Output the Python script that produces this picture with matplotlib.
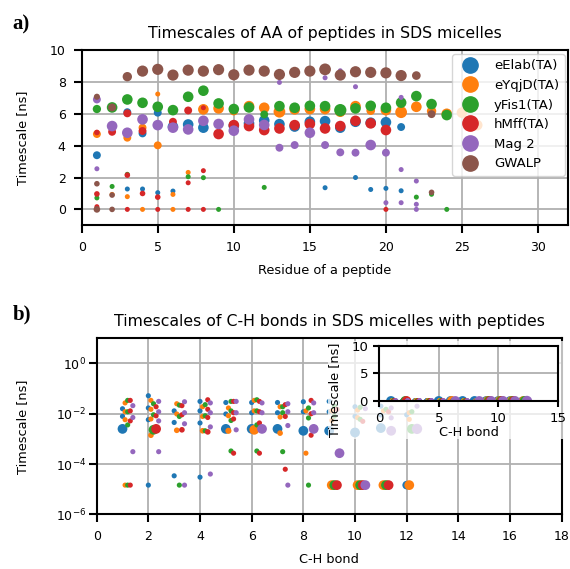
import matplotlib
matplotlib.use('Agg')
import matplotlib.pyplot as plt
from matplotlib.lines import Line2D
from matplotlib.patches import Rectangle
from matplotlib.ticker import NullLocator

plt.rcParams['axes.linewidth'] = 1.5
plt.rcParams['xtick.major.width'] = 1.5
plt.rcParams['ytick.major.width'] = 1.5
plt.rcParams['xtick.major.size'] = 5.5
plt.rcParams['ytick.major.size'] = 5.5
plt.rcParams['xtick.major.pad'] = 6
plt.rcParams['ytick.major.pad'] = 6
plt.rcParams['grid.linewidth'] = 1.3
plt.rcParams['xtick.labelsize'] = 9
plt.rcParams['ytick.labelsize'] = 9

peptides = ['eElab(TA)', 'eYqjD(TA)', 'yFis1(TA)', 'hMff(TA)', 'Mag 2', 'GWALP']
colors = ['tab:blue', 'tab:orange', 'tab:green', 'tab:red', 'tab:purple', 'tab:brown']

# ---- a) residue timescales [ns] with relative weights
eElab_res = [1, 3, 4, 5, 6, 7, 8, 10, 11, 12, 13, 14, 15, 16, 17, 18, 19, 20, 21,
             3, 4, 5, 6, 16, 18, 19, 20, 21]
eElab_tau = [3.4, 6.1, 4.77, 6.07, 5.19, 5.33, 5.13, 5.25, 5.4, 5.58, 5.35, 5.2, 5.5, 5.54, 5.13, 5.5, 5.44, 5.47, 5.17,
             1.28, 1.28, 1.05, 1.15, 1.36, 2.0, 1.25, 1.32, 1.17]
eElab_w = [0.5, 0.5, 0.5, 0.5, 0.9, 0.9, 0.9, 0.9, 0.9, 0.9, 0.9, 0.9, 0.9, 0.9, 0.9, 0.9, 0.9, 0.9, 0.5,
           0.2, 0.2, 0.2, 0.2, 0.2, 0.2, 0.2, 0.2, 0.2]

eYqjD_res = [1, 2, 3, 3, 4, 4, 5, 5, 6, 6, 7, 8, 9, 10, 11, 12, 13, 14, 15, 16, 17, 18, 19, 20, 21, 22, 23, 24, 25, 26]
eYqjD_tau = [4.73, 0.94, 4.5, 0.8, 5.13, 0.0, 7.24, 4.02, 0.94, 0.0, 2.32, 6.28, 6.34, 6.17, 6.48, 6.38, 6.13,
             6.28, 6.3, 6.3, 6.13, 6.48, 6.2, 6.23, 6.1, 6.44, 6.17, 6.0, 6.07, 5.29]
eYqjD_w = [0.5, 0.2, 0.5, 0.2, 0.5, 0.2, 0.2, 0.5, 0.2, 0.2, 0.2, 0.9, 0.9, 0.6, 0.9, 0.9, 1.1, 0.9, 0.9, 0.9,
           0.9, 0.9, 0.6, 0.9, 1.1, 0.9, 0.7, 0.9, 0.9, 0.9]

yFis1_res = [1, 1, 2, 2, 3, 3, 4, 5, 6, 7, 7, 8, 8, 9, 9, 10, 11, 12, 12, 13, 14, 15, 16, 17, 18, 19, 20, 21,
             22, 22, 23, 23, 24, 24]
yFis1_tau = [6.3, 0.72, 6.4, 1.44, 6.9, 2.2, 6.69, 6.44, 6.23, 7.07, 2.05, 7.45, 1.99, 6.65, 0.0, 6.3, 6.4, 5.96,
             1.38, 6.48, 6.38, 6.5, 6.48, 6.23, 6.34, 6.5, 6.38, 6.7, 7.11, 0.77, 6.61, 0.95, 5.92, 0.0]
yFis1_w = [0.55, 0.2, 0.9, 0.2, 0.9, 0.2, 0.9, 0.9, 0.9, 0.9, 0.2, 0.9, 0.2, 0.9, 0.2, 0.9, 0.9, 0.5, 0.2, 0.9,
           0.9, 0.9, 0.9, 1.2, 0.9, 0.9, 0.9, 0.9, 0.9, 0.2, 0.9, 0.2, 0.9, 0.2]

hMff_res = [1, 1, 1, 2, 3, 3, 3, 4, 4, 5, 5, 6, 7, 7, 7, 8, 8, 8, 9, 10, 11, 12, 13, 14, 15, 16, 17, 18, 19, 20, 20]
hMff_tau = [4.83, 0.97, 0.17, 4.87, 6.03, 2.15, 0.0, 4.92, 1.0, 0.77, 0.0, 5.5, 6.21, 1.67, 0.0, 6.38, 2.43, 0.0,
            4.73, 5.29, 5.23, 4.98, 5.08, 5.29, 5.36, 5.08, 5.23, 5.56, 5.4, 4.98, 0.0]
hMff_w = [0.25, 0.25, 0.2, 0.5, 0.5, 0.25, 0.2, 0.5, 0.25, 0.25, 0.2, 0.5, 0.5, 0.2, 0.2, 0.2, 0.2, 0.2, 0.9,
          0.9, 0.9, 0.9, 0.9, 0.9, 0.9, 0.9, 0.9, 0.9, 0.9, 0.9, 0.2]

Mag2_res = [1, 1, 1, 2, 3, 4, 5, 6, 7, 8, 9, 10, 11, 12, 13, 13, 14, 14, 15, 16, 16, 17, 17, 18, 18, 19, 20, 20,
            21, 21, 21, 22, 22, 22]
Mag2_tau = [6.9, 2.55, 0.0, 5.23, 4.81, 5.65, 5.29, 5.13, 5.02, 5.56, 5.36, 4.94, 5.65, 5.3, 7.97, 3.87, 8.7,
            4.04, 4.81, 8.26, 4.04, 8.7, 3.58, 7.7, 3.56, 4.04, 3.56, 0.42, 7.03, 2.5, 0.42, 1.78, 0.32, 0.0]
Mag2_w = [0.5, 0.2, 0.2, 0.9, 0.9, 0.9, 0.9, 0.9, 0.9, 0.9, 0.9, 0.9, 0.9, 0.9, 0.2, 0.5, 0.2, 0.5, 0.9, 0.2,
          0.5, 0.2, 0.5, 0.2, 0.5, 0.9, 0.5, 0.2, 0.2, 0.2, 0.2, 0.2, 0.2, 0.2]

GWALP_res = [1, 1, 1, 2, 2, 2, 3, 4, 5, 6, 7, 8, 9, 10, 11, 12, 13, 14, 15, 16, 17, 18, 19, 20, 21, 22, 23, 23]
GWALP_tau = [7.07, 1.61, 0.0, 6.4, 0.9, 0.0, 8.33, 8.68, 8.79, 8.43, 8.74, 8.68, 8.77, 8.45, 8.74, 8.68, 8.47,
             8.6, 8.68, 8.79, 8.43, 8.64, 8.6, 8.57, 8.4, 8.4, 5.98, 1.07]
GWALP_w = [0.3, 0.25, 0.35, 0.5, 0.25, 0.25, 0.7, 1.0, 1.0, 1.0, 1.0, 1.0, 1.0, 1.0, 1.0, 1.0, 1.0, 1.0, 1.0,
           1.1, 1.0, 1.0, 1.0, 1.0, 1.0, 0.6, 0.5, 0.25]

# ---- b) C-H bond timescales [ns] with relative weights
eElab_bond = [1, 1, 1, 2, 2, 2, 2, 3, 3, 3, 4, 4, 4, 4, 5, 5, 5, 6, 6, 6, 7, 7, 7, 8, 8, 8, 9, 9, 9,
              10, 10, 10, 11, 11, 11, 12, 12]
eElab_ch = [0.0158, 0.0079, 0.0025, 0.052, 0.017, 0.0058, 1.45e-5, 0.013, 0.0045, 3.4e-5, 0.031, 0.013, 0.0043,
            3.0e-5, 0.028, 0.0098, 0.0025, 0.028, 0.011, 0.0025, 0.028, 0.011, 0.0025, 0.030, 0.012, 0.0021,
            0.031, 0.012, 0.0021, 0.019, 0.0079, 0.0018, 0.02, 0.009, 0.0027, 0.0091, 1.45e-5]
eElab_chw = [.25, .25, .9, .25, .25, .25, .25, .25, .25, .25, .25, .25, .25, .25, .25, .25, .9, .25, .25, .9,
             .25, .25, .9, .25, .25, .9, .25, .25, .9, .25, .25, .9, .25, .25, .9, .25, .7]

eYqjD_bond = [1, 1, 1, 1, 2, 2, 2, 2, 3, 3, 3, 4, 4, 4, 5, 5, 5, 6, 6, 6, 7, 7, 7, 8, 8, 9, 9, 9,
              10, 10, 10, 11, 11, 12, 12, 12]
eYqjD_ch = [0.027, 0.012, 0.0058, 1.45e-5, 0.034, 0.015, 0.0062, 0.0014, 0.025, 0.0098, 0.0022, 0.019, 0.0078,
            0.0021, 0.017, 0.0083, 0.0021, 0.034, 0.013, 0.0023, 0.019, 0.0074, 0.0017, 0.013, 2.7e-4, 0.013,
            0.0054, 1.45e-5, 0.014, 0.007, 1.45e-5, 0.013, 1.45e-5, 0.011, 0.006, 1.45e-5]
eYqjD_chw = [.25, .25, .25, .25, .25, .25, .25, .3, .25, .25, .3, .25, .25, .3, .25, .25, .35, .25, .25, .9,
             .25, .25, .3, .25, .25, .25, .25, .9, .25, .25, .9, .25, .9, .25, .25, .9]

yFis1_bond = [1, 1, 1, 1, 2, 2, 2, 3, 3, 3, 4, 4, 4, 5, 5, 5, 5, 6, 6, 6, 6, 7, 7, 7, 8, 8, 8, 9, 9, 9,
              10, 10, 10, 11, 11, 12, 12]
yFis1_ch = [0.034, 0.012, 0.0036, 1.45e-5, 0.025, 0.0091, 0.0023, 0.022, 0.0078, 1.45e-5, 0.023, 0.0083,
            0.0021, 0.031, 0.013, 0.0054, 3.3e-4, 0.036, 0.013, 0.0036, 3.3e-4, 0.019, 0.011, 3.1e-4, 0.017,
            0.0068, 1.45e-5, 0.02, 0.008, 1.45e-5, 0.018, 0.006, 1.45e-5, 0.015, 1.45e-5, 0.012, 0.0025]
yFis1_chw = [.25, .25, .25, .25, .25, .25, .9, .25, .25, .25, .25, .25, .25, .25, .25, .25, .25, .25, .25, .25,
             .25, .25, .25, .25, .25, .25, .25, .25, .25, .9, .25, .25, .9, .25, .9, .25, .9]

hMff_bond = [1, 1, 1, 1, 2, 2, 2, 3, 3, 3, 4, 4, 4, 4, 5, 5, 5, 5, 6, 6, 6, 6, 7, 7, 7, 8, 8, 8, 9, 9,
             10, 10, 11, 11]
hMff_ch = [0.034, 0.013, 0.0052, 1.45e-5, 0.019, 0.0083, 0.0025, 0.021, 0.0091, 0.0023, 0.036, 0.015, 0.0071,
           0.0019, 0.031, 0.011, 0.0062, 2.7e-4, 0.031, 0.012, 0.0043, 2.7e-4, 0.023, 0.0078, 6.2e-5, 0.034,
           0.010, 0.0014, 0.015, 1.45e-5, 0.005, 1.45e-5, 0.012, 1.45e-5]
hMff_chw = [.25, .25, .25, .25, .25, .25, .9, .25, .25, .3, .25, .25, .25, .3, .25, .25, .25, .25, .25, .25,
            .25, .25, .25, .25, .25, .25, .25, .25, .25, .9, .25, .9, .25, .9]

Mag2_bond = [1, 1, 1, 2, 2, 2, 2, 3, 3, 3, 3, 4, 4, 4, 4, 5, 5, 5, 6, 6, 6, 7, 7, 7, 7, 8, 8, 8, 9,
             10, 10, 11, 11, 11, 12, 12]
Mag2_ch = [0.021, 0.0071, 3.1e-4, 0.031, 0.012, 0.0052, 3.1e-4, 0.030, 0.011, 0.0040, 1.45e-5, 0.027, 0.011,
           0.0030, 4.0e-5, 0.031, 0.011, 0.0023, 0.027, 0.011, 0.0025, 0.025, 0.012, 0.0034, 1.45e-5, 0.027,
           0.011, 0.0025, 2.7e-4, 0.016, 1.45e-5, 0.017, 0.0069, 0.0021, 0.02, 0.0025]
Mag2_chw = [.25, .25, .25, .25, .25, .25, .25, .25, .25, .25, .25, .25, .25, .25, .25, .25, .25, .25, .25, .25,
            .9, .25, .25, .25, .25, .25, .25, .9, .9, .25, .9, .25, .25, .9, .25, 1.0]

res_data = [(eElab_res, eElab_tau, eElab_w), (eYqjD_res, eYqjD_tau, eYqjD_w),
            (yFis1_res, yFis1_tau, yFis1_w), (hMff_res, hMff_tau, hMff_w),
            (Mag2_res, Mag2_tau, Mag2_w), (GWALP_res, GWALP_tau, GWALP_w)]
ch_data = [(eElab_bond, eElab_ch, eElab_chw), (eYqjD_bond, eYqjD_ch, eYqjD_chw),
           (yFis1_bond, yFis1_ch, yFis1_chw), (hMff_bond, hMff_ch, hMff_chw),
           (Mag2_bond, Mag2_ch, Mag2_chw)]

fig = plt.figure(figsize=(5.7, 5.69), dpi=100)

# ----- a)
ax1 = fig.add_axes([0.1433, 0.604, 0.854, 0.308])
ax1.set_axisbelow(True)
ax1.grid(True)
for i, (x, y, w) in enumerate(res_data):
    ax1.scatter(x, y, s=[65 * v for v in w], color=colors[i], linewidths=0)
ax1.set_xlim(0, 32)
ax1.set_ylim(-1, 10)
ax1.set_xticks([0, 5, 10, 15, 20, 25, 30])
ax1.set_yticks([0, 2, 4, 6, 8, 10])
ax1.set_title('Timescales of AA of peptides in SDS micelles', fontsize=11.3, pad=9)
ax1.set_xlabel('Residue of a peptide', fontsize=9.3, labelpad=7)
ax1.set_ylabel('Timescale [ns]', fontsize=9.3)
ax1.yaxis.set_label_coords(-0.108, 0.5)
handles = [Line2D([], [], marker='o', linestyle='none', markersize=11, color=c) for c in colors]
ax1.legend(handles, peptides, loc='upper right', fontsize=9.5, borderaxespad=0.3, labelspacing=0.5)

# ----- b)
ax2 = fig.add_axes([0.1696, 0.0961, 0.8158, 0.3093])
ax2.set_axisbelow(True)
ax2.grid(True)
for i, (x, y, w) in enumerate(ch_data):
    ax2.scatter([b + 0.1 * i for b in x], y, s=[55 * v for v in w], color=colors[i], linewidths=0)
ax2.set_yscale('log')
ax2.set_xlim(0, 18)
ax2.set_ylim(1e-6, 10)
ax2.set_xticks(range(0, 19, 2))
ax2.set_yticks([1e-6, 1e-4, 1e-2, 1])
ax2.yaxis.set_minor_locator(NullLocator())
ax2.tick_params(axis='y', pad=2)
ax2.set_title('Timescales of C-H bonds in SDS micelles with peptides', fontsize=11.3, pad=9)
ax2.set_xlabel('C-H bond', fontsize=9.3, labelpad=7)
ax2.set_ylabel('Timescale [ns]', fontsize=9.3)
ax2.yaxis.set_label_coords(-0.1456, 0.5)

# inset on a linear scale
axin = fig.add_axes([0.665, 0.2953, 0.314, 0.0967], zorder=3)
axin.set_axisbelow(True)
axin.grid(True)
for i, (x, y, w) in enumerate(ch_data):
    axin.scatter([b + 0.1 * i for b in x], y, s=[55 * v for v in w], color=colors[i], linewidths=0)
axin.set_xlim(0, 15)
axin.set_ylim(0, 10)
axin.set_xticks([0, 5, 10, 15])
axin.set_yticks([0, 5, 10])
axin.tick_params(labelsize=9.5, length=4, pad=4)
axin.set_xlabel('C-H bond', fontsize=9.3, labelpad=1)
axin.set_ylabel('Timescale [ns]', fontsize=9.3)
axin.yaxis.set_label_coords(-0.21, 0.2)

# white veil behind the inset and its labels
bb = axin.get_tightbbox(fig.canvas.get_renderer()).transformed(fig.transFigure.inverted())
fig.patches.append(Rectangle((bb.x0, bb.y0), bb.width, bb.height, transform=fig.transFigure,
                             facecolor='white', edgecolor='none', alpha=0.75, zorder=2))

fig.text(0.022, 0.948, 'a)', family='Liberation Serif', weight='bold', fontsize=15)
fig.text(0.022, 0.438, 'b)', family='Liberation Serif', weight='bold', fontsize=15)

fig.savefig('out.png', dpi=100)
